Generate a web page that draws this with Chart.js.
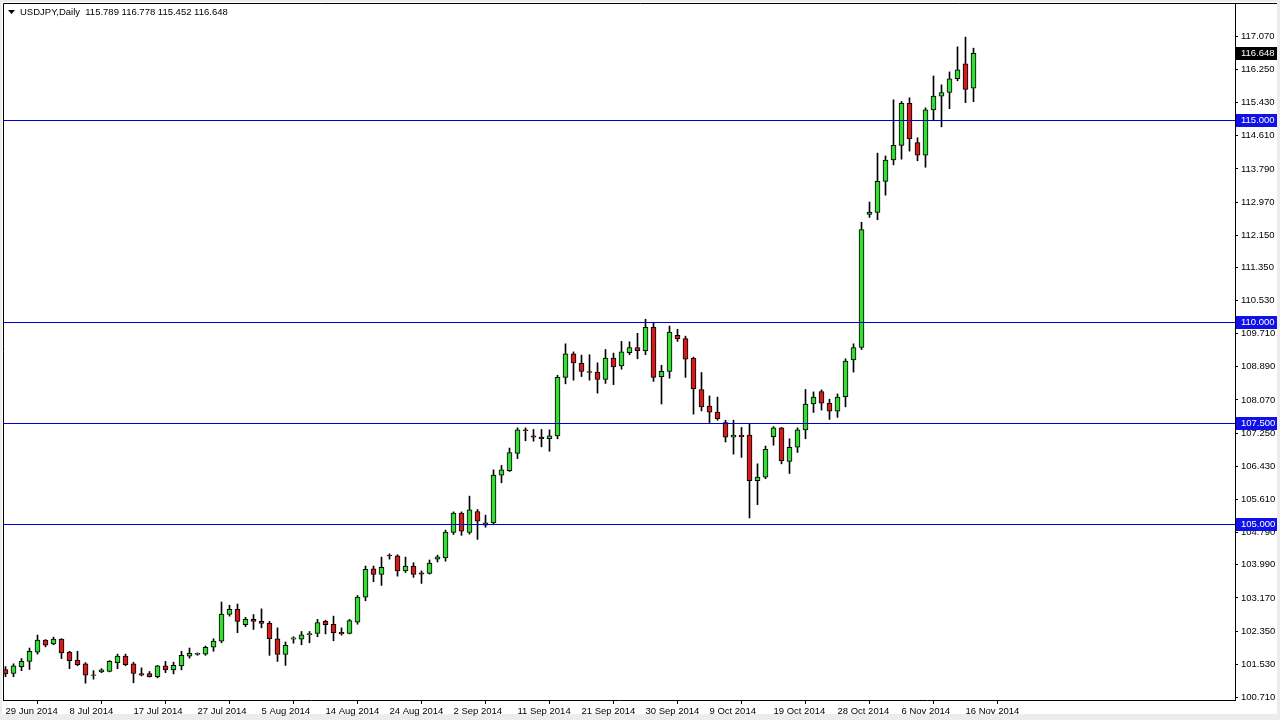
<!DOCTYPE html>
<html>
<head>
<meta charset="utf-8">
<script src="https://cdn.jsdelivr.net/npm/chart.js@4"></script>
<style>
  html, body { margin: 0; padding: 0; background: #fff; }
  canvas { display: block; }
</style>
</head>
<body>
<canvas id="chart" width="1280" height="720"></canvas>
<script>
// USDJPY daily candles, 29 Jun 2014 .. 17 Nov 2014 (one bar per trading day, Sun-Fri)
const header = "USDJPY,Daily  115.789 116.778 115.452 116.648";

const opens = [
  101.40, 101.30, 101.47, 101.60, 101.83, 102.13, 102.03, 102.15, 101.83, 101.63,
  101.54, 101.27, 101.34, 101.35, 101.57, 101.73, 101.54, 101.30, 101.30, 101.22,
  101.49, 101.39, 101.49, 101.73, 101.77, 101.78, 101.95, 102.10, 102.76, 102.89,
  102.51, 102.64, 102.59, 102.54, 102.16, 101.77, 102.15, 102.15, 102.26, 102.29,
  102.59, 102.52, 102.32, 102.29, 102.57, 103.19, 103.89, 103.75, 104.23, 104.21,
  103.84, 103.96, 103.79, 103.78, 104.13, 104.16, 104.79, 105.27, 104.79, 105.31,
  104.97, 105.03, 106.21, 106.32, 106.75, 107.33, 107.18, 107.15, 107.11, 107.18,
  108.63, 109.21, 108.98, 108.77, 108.76, 108.58, 109.11, 108.91, 109.24, 109.37,
  109.29, 109.87, 108.65, 108.78, 109.67, 109.59, 109.11, 108.33, 107.92, 107.77,
  107.51, 107.15, 107.20, 107.20, 106.07, 106.16, 107.16, 107.38, 106.55, 106.90,
  107.33, 107.97, 108.28, 107.99, 107.79, 108.15, 109.06, 109.37, 112.66, 112.71,
  113.48, 114.01, 114.37, 115.41, 114.44, 114.13, 115.25, 115.59, 115.68, 116.02,
  116.39, 115.789
];
const highs = [
  101.47, 101.54, 101.67, 101.93, 102.25, 102.14, 102.20, 102.16, 101.85, 101.85,
  101.57, 101.37, 101.42, 101.62, 101.78, 101.78, 101.58, 101.44, 101.35, 101.50,
  101.60, 101.58, 101.85, 101.93, 101.81, 101.98, 102.16, 103.07, 102.99, 103.02,
  102.69, 102.76, 102.90, 102.59, 102.43, 102.08, 102.21, 102.34, 102.34, 102.64,
  102.62, 102.72, 102.43, 102.64, 103.23, 103.96, 103.96, 104.18, 104.26, 104.24,
  104.18, 104.04, 103.84, 104.11, 104.23, 104.85, 105.30, 105.30, 105.69, 105.36,
  105.22, 106.34, 106.45, 106.88, 107.38, 107.38, 107.34, 107.34, 107.33, 108.68,
  109.46, 109.26, 109.18, 109.19, 108.99, 109.32, 109.23, 109.52, 109.51, 109.72,
  110.07, 109.98, 108.93, 109.90, 109.82, 109.65, 109.13, 108.75, 108.17, 108.14,
  107.57, 107.57, 107.39, 107.48, 106.49, 106.93, 107.41, 107.39, 107.11, 107.38,
  108.33, 108.27, 108.32, 108.09, 108.22, 109.09, 109.46, 112.47, 112.97, 114.18,
  114.11, 115.50, 115.46, 115.55, 114.56, 115.30, 116.09, 115.87, 116.19, 116.81,
  117.05, 116.778
];
const lows = [
  101.22, 101.22, 101.37, 101.40, 101.78, 101.96, 102.01, 101.67, 101.42, 101.49,
  101.06, 101.16, 101.32, 101.34, 101.42, 101.49, 101.07, 101.24, 101.21, 101.19,
  101.32, 101.29, 101.39, 101.68, 101.75, 101.75, 101.85, 102.06, 102.72, 102.31,
  102.46, 102.39, 102.43, 101.75, 101.60, 101.50, 102.05, 102.01, 102.06, 102.21,
  102.28, 102.11, 102.25, 102.28, 102.52, 103.10, 103.57, 103.48, 104.13, 103.71,
  103.80, 103.68, 103.53, 103.76, 104.06, 104.08, 104.74, 104.72, 104.75, 104.62,
  104.92, 105.00, 106.02, 106.30, 106.62, 107.06, 107.05, 106.91, 106.80, 107.11,
  108.47, 108.56, 108.65, 108.56, 108.24, 108.48, 108.45, 108.83, 109.19, 109.09,
  109.19, 108.53, 107.97, 108.61, 109.52, 108.63, 107.72, 107.80, 107.51, 107.57,
  107.03, 106.73, 106.65, 105.15, 105.48, 106.12, 106.95, 106.49, 106.25, 106.77,
  107.11, 107.76, 107.82, 107.59, 107.64, 107.90, 108.76, 109.32, 112.59, 112.53,
  113.14, 113.89, 114.03, 114.23, 113.99, 113.83, 115.00, 114.83, 115.28, 115.97,
  115.43, 115.452
];
const closes = [
  101.29, 101.49, 101.60, 101.85, 102.13, 102.00, 102.15, 101.81, 101.62, 101.52,
  101.26, 101.25, 101.39, 101.60, 101.73, 101.52, 101.30, 101.26, 101.22, 101.49,
  101.39, 101.50, 101.75, 101.80, 101.80, 101.95, 102.10, 102.77, 102.89, 102.59,
  102.64, 102.59, 102.54, 102.16, 101.77, 102.00, 102.18, 102.26, 102.29, 102.56,
  102.51, 102.31, 102.28, 102.61, 103.19, 103.88, 103.75, 103.93, 104.21, 103.84,
  103.96, 103.75, 103.76, 104.03, 104.19, 104.80, 105.27, 104.82, 105.35, 105.07,
  105.03, 106.21, 106.34, 106.77, 107.33, 107.31, 107.15, 107.11, 107.18, 108.63,
  109.21, 108.99, 108.78, 108.75, 108.58, 109.11, 108.89, 109.26, 109.37, 109.29,
  109.87, 108.63, 108.78, 109.75, 109.59, 109.08, 108.35, 107.90, 107.77, 107.61,
  107.15, 107.20, 107.16, 106.07, 106.16, 106.85, 107.38, 106.57, 106.90, 107.33,
  107.97, 108.14, 107.99, 107.79, 108.14, 109.03, 109.37, 112.29, 112.72, 113.48,
  114.01, 114.37, 115.41, 114.54, 114.13, 115.25, 115.59, 115.68, 116.02, 116.24,
  115.76, 116.648
];

// date labels every 8 bars
const dateTicks = [
  "29 Jun 2014", "8 Jul 2014", "17 Jul 2014", "27 Jul 2014", "5 Aug 2014",
  "14 Aug 2014", "24 Aug 2014", "2 Sep 2014", "11 Sep 2014", "21 Sep 2014",
  "30 Sep 2014", "9 Oct 2014", "19 Oct 2014", "28 Oct 2014", "6 Nov 2014", "16 Nov 2014"
];
const priceTicks = [
  117.070, 116.250, 115.430, 114.610, 113.790, 112.970, 112.150, 111.350, 110.530,
  109.710, 108.890, 108.070, 107.250, 106.430, 105.610, 104.790, 103.990, 103.170,
  102.350, 101.530, 100.710
];
const levelLines = [115.000, 110.000, 107.500, 105.000];
const lastPrice = 116.648;

const bullColor = "#33dd33";
const bearColor = "#d41c1c";
const levelColor = "#0000d0";
const font = { family: "Liberation Sans, Arial, sans-serif", size: 9.5 };

const idx = closes.map((c, i) => i);
const bodyColors = closes.map((c, i) => (c >= opens[i] ? bullColor : bearColor));

const overlay = {
  id: "overlay",
  beforeDraw(chart) {
    const { ctx } = chart;
    ctx.save();
    ctx.fillStyle = "#ececec";
    ctx.fillRect(0, 0, 1280, 720);
    ctx.fillStyle = "#fff";
    ctx.fillRect(2, 2, 1275, 712);
    ctx.restore();
  },
  afterDatasetsDraw(chart) {
    const { ctx, chartArea: a, scales: { y } } = chart;
    ctx.save();
    ctx.strokeStyle = levelColor;
    ctx.lineWidth = 1;
    levelLines.forEach(v => {
      const py = Math.round(y.getPixelForValue(v)) + 0.5;
      ctx.beginPath();
      ctx.moveTo(a.left, py);
      ctx.lineTo(a.right, py);
      ctx.stroke();
    });
    ctx.restore();
  },
  afterDraw(chart) {
    const { ctx, chartArea: a, scales: { y } } = chart;
    ctx.save();
    ctx.font = font.size + "px " + font.family;
    ctx.textBaseline = "middle";
    // price boxes on the axis
    const box = (v, bg) => {
      const py = Math.round(y.getPixelForValue(v));
      ctx.fillStyle = bg;
      ctx.fillRect(a.right + 1, py - 6, 41, 13);
      ctx.fillStyle = "#fff";
      ctx.fillText(v.toFixed(3), a.right + 6, py + 0.5);
    };
    levelLines.forEach(v => box(v, "#1010e8"));
    box(lastPrice, "#000");

    // chart frame (left and top edges)
    ctx.strokeStyle = "#000";
    ctx.lineWidth = 1;
    ctx.beginPath();
    ctx.moveTo(a.left + 0.5, a.bottom);
    ctx.lineTo(a.left + 0.5, a.top + 0.5);
    ctx.lineTo(1277, a.top + 0.5);
    ctx.stroke();

    // header
    ctx.fillStyle = "#000";
    ctx.beginPath();
    ctx.moveTo(8, 10);
    ctx.lineTo(15, 10);
    ctx.lineTo(11.5, 14);
    ctx.closePath();
    ctx.fill();
    ctx.fillText(header, 20, 12.5);
    ctx.restore();
  }
};

new Chart(document.getElementById("chart"), {
  type: "bar",
  data: {
    datasets: [
      {
        label: "body",
        data: idx.map(i => ({ x: i, y: [opens[i], closes[i]] })),
        backgroundColor: bodyColors,
        borderColor: "#000",
        borderWidth: 1,
        borderSkipped: false,
        barThickness: 5,
        grouped: false
      },
      {
        label: "wick",
        data: idx.map(i => ({ x: i, y: [lows[i], highs[i]] })),
        backgroundColor: "#000",
        borderWidth: 0,
        barThickness: 1,
        grouped: false
      }
    ]
  },
  options: {
    responsive: false,
    animation: false,
    layout: { padding: { left: 3, top: 3, right: 0, bottom: 0 } },
    plugins: {
      legend: { display: false },
      tooltip: { enabled: false }
    },
    scales: {
      x: {
        type: "linear",
        offset: false,
        min: -0.3125,
        max: 153.6875,
        afterBuildTicks: s => { s.ticks = dateTicks.map((t, k) => ({ value: k * 8 })); },
        afterFit: s => { s.height = 20; s.paddingLeft = 0; s.paddingRight = 0; },
        ticks: {
          autoSkip: false,
          maxRotation: 0,
          align: "start",
          padding: 2,
          color: "#000",
          font,
          callback: v => dateTicks[Math.round(v / 8)]
        },
        grid: { drawOnChartArea: false, drawTicks: true, tickLength: 4, color: "#000" },
        border: { display: true, color: "#000" }
      },
      y: {
        position: "right",
        min: 100.644,
        max: 117.896,
        afterBuildTicks: s => { s.ticks = priceTicks.map(v => ({ value: v })); },
        afterFit: s => { s.width = 45; s.paddingTop = 0; s.paddingBottom = 0; },
        ticks: {
          padding: 3,
          color: "#000",
          font,
          callback: v => v.toFixed(3)
        },
        grid: { drawOnChartArea: false, drawTicks: true, tickLength: 3, color: "#000" },
        border: { display: true, color: "#000" }
      }
    }
  },
  plugins: [overlay]
});
</script>
</body>
</html>
